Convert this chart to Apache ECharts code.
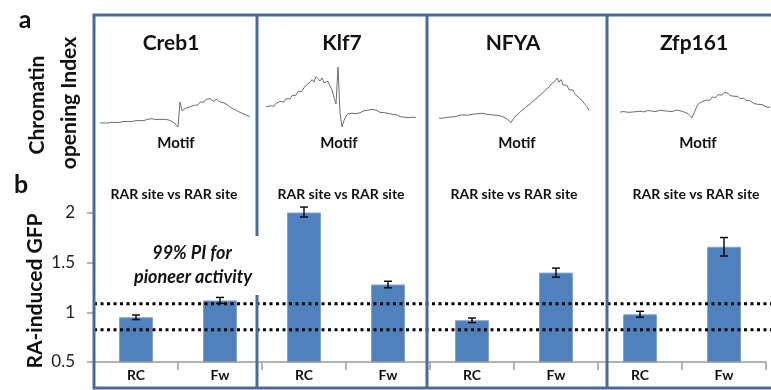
<!DOCTYPE html>
<html>
<head>
<meta charset="utf-8">
<script src="https://cdn.jsdelivr.net/npm/echarts@6/dist/echarts.min.js"></script>
<style>
  html, body { margin: 0; padding: 0; background: #fff; }
  #chart { width: 771px; height: 390px; }
</style>
</head>
<body>
<div id="chart"></div>
<script>
// Transcription factors, one panel each
const factors = ['Creb1', 'Klf7', 'NFYA', 'Zfp161'];
// Reporter orientation per bar (two per factor)
const orientations = ['RC', 'Fw', 'RC', 'Fw', 'RC', 'Fw', 'RC', 'Fw'];
// RA-induced GFP, mean and error
const gfpMean = [0.95, 1.12, 2.01, 1.28, 0.92, 1.40, 0.98, 1.66];
const gfpErr  = [0.023, 0.03, 0.05, 0.033, 0.023, 0.045, 0.03, 0.093];
// 99% prediction interval for pioneer activity (lower, upper)
const piBounds = [0.825, 1.087];
// GFP axis ticks
const gfpTicks = [0.5, 1, 1.5, 2];

// Chromatin opening index profiles around the motif
const creb1Trace = [
  12.0, 11.4, 12.1, 12.6, 11.9, 12.3, 12.8, 12.2, 12.5, 13.1,
  12.7, 13.0, 13.6, 13.1, 13.4, 13.9, 13.5, 13.8, 14.4, 13.9,
  14.3, 14.9, 14.5, 15.2, 15.8, 15.1, 16.3, 15.7, 15.4, 16.0,
  15.5, 15.0, 15.7, 14.9, 15.2, 14.4, 13.6, 12.3, 10.4, 8.0,
  33.0, 24.5, 26.0, 26.8, 25.4, 28.2, 27.1, 29.6, 31.2, 30.1,
  32.8, 34.3, 33.0, 35.6, 34.2, 36.4, 35.1, 33.5, 35.8, 34.6,
  33.1, 33.9, 32.2, 30.8, 29.7, 28.1, 26.6, 27.2, 24.9, 23.8,
  22.6, 21.9, 20.8, 21.3, 19.1, 18.6
];
const klf7Trace = [
  28.0, 26.5, 29.2, 30.4, 28.8, 31.6, 30.2, 33.5, 34.8, 33.0,
  36.2, 37.8, 36.1, 39.4, 41.2, 39.8, 43.5, 45.1, 43.7, 47.2,
  49.8, 48.0, 52.6, 55.3, 53.1, 58.4, 56.2, 54.0, 57.1, 52.3,
  50.8, 53.6, 48.9, 45.2, 37.5, 31.0, 68.0, 22.0, 8.0, 14.5,
  19.0, 21.2, 20.1, 21.8, 22.6, 21.4, 23.1, 22.2, 22.9, 24.3,
  23.0, 24.8, 23.6, 25.6, 24.1, 24.9, 23.2, 22.6, 21.8, 22.4,
  21.0, 21.7, 20.2, 20.8, 19.6, 20.3, 19.1, 18.4, 19.0, 17.9,
  18.5, 17.3, 16.9, 17.8, 16.6, 17.6
];
const nfyaTrace = [
  17.0, 17.6, 16.8, 18.1, 17.7, 18.4, 17.9, 18.9, 18.3, 19.2,
  19.6, 18.9, 20.2, 20.7, 19.8, 21.0, 20.4, 21.6, 21.1, 22.0,
  21.3, 20.9, 21.8, 21.2, 20.6, 21.4, 20.3, 20.9, 19.8, 20.2,
  19.4, 18.8, 18.2, 17.1, 16.0, 14.1, 12.5, 14.2, 18.6, 17.3,
  21.8, 23.9, 22.6, 26.8, 28.9, 27.4, 31.6, 34.0, 32.5, 36.8,
  39.2, 37.6, 42.3, 44.8, 43.1, 47.9, 50.6, 48.7, 54.2, 57.0,
  52.8, 55.4, 50.1, 48.3, 49.6, 45.2, 43.8, 44.9, 40.7, 39.1,
  37.4, 35.8, 33.1, 31.6, 28.2, 24.5
];
const zfp161Trace = [
  23.0, 22.3, 23.4, 23.9, 22.7, 23.5, 22.9, 24.1, 23.3, 22.8,
  23.7, 24.3, 23.1, 23.8, 24.5, 23.2, 23.9, 24.4, 23.5, 24.0,
  24.8, 23.6, 24.2, 25.0, 23.9, 24.6, 23.4, 24.1, 24.9, 23.8,
  24.3, 23.5, 23.0, 22.2, 21.4, 19.3, 17.2, 16.0, 26.5, 30.8,
  29.4, 33.2, 32.0, 34.9, 36.1, 34.8, 37.9, 39.0, 37.6, 40.3,
  41.5, 39.8, 42.6, 40.9, 41.8, 39.4, 40.6, 38.7, 37.5, 38.6,
  36.4, 35.6, 36.8, 34.5, 33.4, 34.2, 32.3, 31.5, 32.4, 30.6,
  29.8, 30.5, 28.9, 28.2, 29.1, 27.6
];

const traces = [creb1Trace, klf7Trace, nfyaTrace, zfp161Trace];
const traceLeft = [100, 266, 439, 620];

const FONT = 'Lato, "Open Sans", "Liberation Sans", sans-serif';
const INK = '#111';
const FRAME = '#4a6a99';

const chart = echarts.init(document.getElementById('chart'), null, { renderer: 'canvas' });

const grids = [];
const xAxes = [];
const yAxes = [];
const series = [];

// Profile panels (top row)
traces.forEach((t, k) => {
  grids.push({ left: traceLeft[k], top: 60, width: 150, height: 75 });
  xAxes.push({ type: 'value', gridIndex: k, min: 0, max: t.length - 1, show: false });
  yAxes.push({ type: 'value', gridIndex: k, min: 0, max: 75, show: false });
  series.push({
    type: 'line', xAxisIndex: k, yAxisIndex: k,
    data: t.map((v, i) => [i, v]),
    symbol: 'none', silent: true,
    lineStyle: { color: '#6e6e6e', width: 1 }
  });
});

// GFP bar panel (bottom row)
const BAR = 4;
grids.push({ left: 94, right: 5, top: 213, bottom: 28 });
xAxes.push({
  type: 'category', gridIndex: BAR, data: orientations, z: 3,
  axisLine: { onZero: false, lineStyle: { color: '#9a9a9a', width: 1.5 } },
  axisTick: { show: true, length: 8, lineStyle: { color: '#9a9a9a', width: 1.5 } },
  axisLabel: { color: INK, fontFamily: FONT, fontWeight: 'bold', fontSize: 14, margin: 6 }
});
yAxes.push({
  type: 'value', gridIndex: BAR,
  min: gfpTicks[0], max: gfpTicks[gfpTicks.length - 1], interval: gfpTicks[1] - gfpTicks[0],
  axisLine: { show: false },
  axisTick: { show: true, length: 7, lineStyle: { color: '#9a9a9a', width: 1.5 } },
  splitLine: { show: false },
  axisLabel: { color: '#222', fontFamily: FONT, fontSize: 17, margin: 19 }
});
series.push({
  type: 'bar', xAxisIndex: BAR, yAxisIndex: BAR,
  data: gfpMean, barWidth: 34,
  itemStyle: { color: '#4F81BD', borderColor: '#7fa2cf', borderWidth: 1 }
});
series.push({
  type: 'custom', xAxisIndex: BAR, yAxisIndex: BAR, clip: false, z: 5,
  data: gfpMean.map((m, i) => [i, m, gfpErr[i]]),
  encode: { x: 0, y: 1 },
  renderItem(params, api) {
    const i = api.value(0), m = api.value(1), e = api.value(2);
    const hi = api.coord([i, m + e]);
    const lo = api.coord([i, m - e]);
    const cap = 4;
    const st = { stroke: '#000', lineWidth: 1.4 };
    return {
      type: 'group',
      children: [
        { type: 'line', shape: { x1: hi[0], y1: hi[1], x2: lo[0], y2: lo[1] }, style: st },
        { type: 'line', shape: { x1: hi[0] - cap, y1: hi[1], x2: hi[0] + cap, y2: hi[1] }, style: st },
        { type: 'line', shape: { x1: lo[0] - cap, y1: lo[1], x2: lo[0] + cap, y2: lo[1] }, style: st }
      ]
    };
  }
});

// Prediction interval lines span the full panel width
const PI = 5;
grids.push({ left: 94, right: 0, top: 213, bottom: 28 });
xAxes.push({ type: 'value', gridIndex: PI, min: 0, max: 1, show: false });
yAxes.push({ type: 'value', gridIndex: PI, min: gfpTicks[0], max: gfpTicks[gfpTicks.length - 1], show: false });
piBounds.forEach(b => {
  series.push({
    type: 'line', xAxisIndex: PI, yAxisIndex: PI, z: 6,
    data: [[0, b], [1, b]], symbol: 'none', silent: true,
    lineStyle: { color: '#000', width: 3, type: [3, 3.5] }
  });
});

function txt(x, y, text, size, opts) {
  opts = opts || {};
  return {
    type: 'text', x: x, y: y, rotation: opts.rot || 0, z: 10,
    style: {
      text: text,
      font: (opts.style || '') + ' ' + (opts.weight || 'bold') + ' ' + size + 'px ' + FONT,
      fill: INK,
      textAlign: 'center', textVerticalAlign: 'middle',
      align: 'center', verticalAlign: 'middle'
    }
  };
}
function seg(x1, y1, x2, y2) {
  return {
    type: 'line', z: 8,
    shape: { x1: x1, y1: y1, x2: x2, y2: y2 },
    style: { stroke: FRAME, lineWidth: 3 }
  };
}

const titleX = [171, 342, 513, 694];
const motifX = [176, 339, 517, 698];
const rarX = [174, 341, 514, 696];

const graphics = [
  // panel frame and dividers
  { type: 'rect', z: 8, shape: { x: 94, y: 15, width: 720, height: 373 },
    style: { fill: 'none', stroke: FRAME, lineWidth: 3 } },
  seg(257, 15, 257, 236), seg(257, 295, 257, 388),
  seg(427, 15, 427, 388),
  seg(607, 15, 607, 388),
  // panel letters and axis titles
  txt(25, 20, 'a', 25),
  txt(21, 185, 'b', 25),
  txt(37, 105, 'Chromatin', 21, { rot: Math.PI / 2 }),
  txt(69, 103, 'opening Index', 21, { rot: Math.PI / 2 }),
  txt(35, 291, 'RA-induced GFP', 21, { rot: Math.PI / 2 }),
  txt(192, 253, '99% PI for', 18, { style: 'italic' }),
  txt(193, 277, 'pioneer activity', 18, { style: 'italic' })
];
factors.forEach((f, k) => {
  graphics.push(txt(titleX[k], 43, f, 21));
  graphics.push(txt(motifX[k], 143, 'Motif', 15));
  graphics.push(txt(rarX[k], 194, 'RAR site vs RAR site', 14));
});

chart.setOption({
  backgroundColor: '#fff',
  animation: false,
  grid: grids,
  xAxis: xAxes,
  yAxis: yAxes,
  series: series,
  graphic: graphics
});
</script>
</body>
</html>
